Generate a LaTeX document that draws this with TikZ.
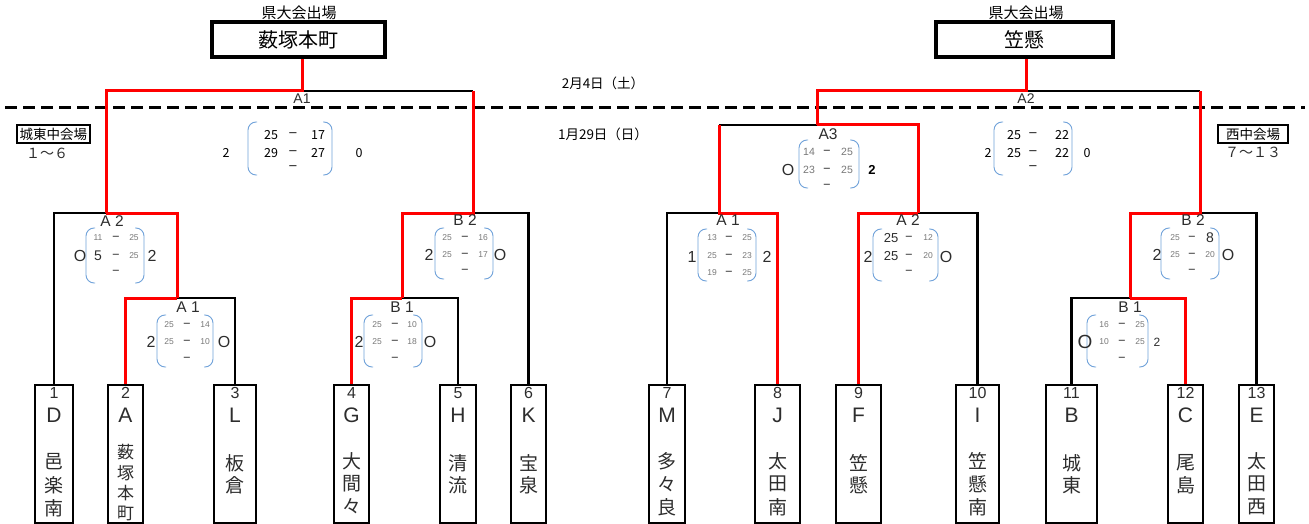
\documentclass[tikz,border=0pt]{standalone}
\usepackage{fontspec}
\setmainfont{Liberation Sans}
\newfontfamily\jp{Noto Sans CJK JP}
\definecolor{parb}{RGB}{112,162,218}
\definecolor{smg}{RGB}{120,120,120}
\definecolor{ocg}{RGB}{45,45,45}
\newcounter{nn}
\newcommand\tx[4]{\stepcounter{nn}\node[#1] (n\arabic{nn}) at (#2,#3) {#4};}
\newcommand\sbr[4]{%
  \draw[parc] ({#1+9},#3) -- (#1,#3) -- (#1,#4) -- ({#1+9},#4);
  \draw[parc] ({#2-9},#3) -- (#2,#3) -- (#2,#4) -- ({#2-9},#4);}
\newcommand\team[6]{% name, center x, width, num, letter, unused
  \node[teambox,minimum width=#3pt] (#1) at (#2,454) {};
  \node[numtxt] (#1n) at (#2,393) {#4};
  \node[lettxt] (#1l) at (#2,415) {#5};}
\newcommand\kj[3]{\stepcounter{nn}\node[kjtxt] (k\arabic{nn}) at (#1,#2) {#3};}
\begin{document}
\begin{tikzpicture}[x=1pt,y=-1pt,
  blk/.style={line width=2.2pt,black},
  redl/.style={line width=3pt,red},
  parc/.style={line width=0.9pt,parb,rounded corners=8pt},
  teambox/.style={draw,line width=2.2pt,inner sep=0pt,minimum height=138pt},
  numtxt/.style={font=\fontsize{16}{16}\selectfont,text=ocg,inner sep=0pt},
  lettxt/.style={font=\fontsize{21}{21}\selectfont,text=ocg,inner sep=0pt},
  kjtxt/.style={font=\jp\fontsize{19}{19}\selectfont,text=ocg,inner sep=0pt},
  kjs/.style={font=\jp\fontsize{17}{17}\selectfont,text=ocg,inner sep=0pt},
  lbl/.style={font=\fontsize{15.5}{15.5}\selectfont,text=ocg,inner sep=0pt},
  sm/.style={font=\fontsize{8.5}{8.5}\selectfont,text=smg,inner sep=0pt},
  smb/.style={font=\fontsize{10.5}{10.5}\selectfont,text=smg,inner sep=0pt},
  md/.style={font=\fontsize{14}{14}\selectfont,text=ocg,inner sep=0pt},
  sdash/.style={font=\fontsize{11}{11}\selectfont,text=black,inner sep=0pt},
  fdash/.style={font=\fontsize{13}{13}\selectfont,text=black,inner sep=0pt},
  oc/.style={font=\fontsize{16}{16}\selectfont,text=ocg,inner sep=0pt},
  fin/.style={font=\jp\fontsize{12.5}{12.5}\selectfont,text=black,inner sep=0pt},
  jpt/.style={font=\jp\fontsize{13.5}{13.5}\selectfont,text=black,inner sep=0pt},
  venue/.style={draw,line width=2.8pt,inner sep=0pt,minimum height=18pt,font=\jp\fontsize{13.5}{13.5}\selectfont}
]
\useasboundingbox (0,0) rectangle (1309,524);
\fill[white] (0,0) rectangle (1309,524);

% ---------- top boxes ----------
\node[font=\jp\fontsize{15}{15}\selectfont,inner sep=0pt] (hdA) at (299,13) {県大会出場};
\node[font=\jp\fontsize{15}{15}\selectfont,inner sep=0pt] (hdB) at (1026,13) {県大会出場};
\node[draw,line width=3.5pt,minimum width=173pt,minimum height=35pt,inner sep=0pt,font=\jp\fontsize{20}{20}\selectfont] (kenA) at (298.5,39.5) {薮塚本町};
\node[draw,line width=3.5pt,minimum width=177pt,minimum height=35pt,inner sep=0pt,font=\jp\fontsize{20}{20}\selectfont] (kenB) at (1024.5,39.5) {笠懸};

% dates and dashed line
\node[jpt] (d1) at (603,83) {2月4日（土）};
\node[jpt] (d2) at (603,134) {1月29日（日）};
\draw[line width=3pt,dash pattern=on 12pt off 6pt] (5,108) -- (1305,108);

% venues
\node[venue,minimum width=73pt] (v1) at (53.5,134) {城東中会場};
\node[venue,minimum width=70pt] (v2) at (1253,134) {西中会場};
\node[font=\jp\fontsize{14}{14}\selectfont,text=ocg,inner sep=0pt] (r1) at (47,153) {１～６};
\node[font=\jp\fontsize{14}{14}\selectfont,text=ocg,inner sep=0pt] (r2) at (1253,152) {７～１３};

% ---------- teams ----------
\team{t1}{54}{38}{1}{D}{}
\team{t2}{125.5}{35}{2}{A}{}
\team{t3}{235}{42}{3}{L}{}
\team{t4}{351.5}{35}{4}{G}{}
\team{t5}{458}{36}{5}{H}{}
\team{t6}{528.5}{35}{6}{K}{}
\team{t7}{667}{36}{7}{M}{}
\team{t8}{777.5}{45}{8}{J}{}
\team{t9}{858.5}{45}{9}{F}{}
\team{t10}{977.5}{43}{10}{I}{}
\team{t11}{1071.5}{51}{11}{B}{}
\team{t12}{1185.5}{35}{12}{C}{}
\team{t13}{1256.5}{35}{13}{E}{}

\kj{54}{462}{邑}\kj{54}{485}{楽}\kj{54}{508}{南}
\stepcounter{nn}\node[kjs] (k\arabic{nn}) at (125.5,452) {薮};
\stepcounter{nn}\node[kjs] (k\arabic{nn}) at (125.5,473) {塚};
\stepcounter{nn}\node[kjs] (k\arabic{nn}) at (125.5,493) {本};
\stepcounter{nn}\node[kjs] (k\arabic{nn}) at (125.5,513) {町};
\kj{235}{463}{板}\kj{235}{485}{倉}
\kj{351.5}{461}{大}\kj{351.5}{484}{間}\kj{351.5}{506}{々}
\kj{458}{463}{清}\kj{458}{485}{流}
\kj{528.5}{463}{宝}\kj{528.5}{485}{泉}
\kj{667}{461}{多}\kj{667}{484}{々}\kj{667}{507}{良}
\kj{777.5}{461}{太}\kj{777.5}{484}{田}\kj{777.5}{507}{南}
\kj{858.5}{463}{笠}\kj{858.5}{485}{懸}
\kj{977.5}{461}{笠}\kj{977.5}{484}{懸}\kj{977.5}{507}{南}
\kj{1071.5}{463}{城}\kj{1071.5}{485}{東}
\kj{1185.5}{463}{尾}\kj{1185.5}{485}{島}
\kj{1256.5}{461}{太}\kj{1256.5}{484}{田}\kj{1256.5}{507}{西}

% ---------- junctions ----------
\coordinate (jA1L) at (177,298);
\coordinate (jA2L) at (106,213);
\coordinate (jB1L) at (402,298);
\coordinate (jB2L) at (473,213);
\coordinate (jF1)  at (302,91);
\coordinate (jF1r) at (473,91);
\coordinate (jA1R) at (719,213);
\coordinate (jA2R) at (918,213);
\coordinate (jA3l) at (719,125);
\coordinate (jA3)  at (817,125);
\coordinate (jF2)  at (1026,91);
\coordinate (jF2r) at (1200,91);
\coordinate (jB1R) at (1130,298);
\coordinate (jB2R) at (1200,213);

% black connectors
\draw[blk] (t3.north) |- (jA1L);
\draw[blk] (t1.north) |- (jA2L);
\draw[blk] (t5.north) |- (jB1L);
\draw[blk] (t6.north) |- (jB2L);
\draw[blk] (jF1r) -- (jF1);
\draw[blk] (t7.north) |- (jA1R);
\draw[blk] (t10.north) |- (jA2R);
\draw[blk] (jA3l) -- (jA3);
\draw[blk] (jF2r) -- (jF2);
\draw[blk] (t11.north) |- (jB1R);
\draw[blk] (t13.north) |- (jB2R);

% red connectors
\draw[redl] (t2.north) |- (jA1L);
\draw[redl] (jA1L) |- (jA2L);
\draw[redl] (jA2L) |- (jF1) -- (jF1 |- kenA.south);
\draw[redl] (t4.north) |- (jB1L);
\draw[redl] (jB1L) |- (jB2L) -- (jF1r);
\draw[redl] (t8.north) |- (jA1R) -- (jA3l);
\draw[redl] (t9.north) |- (jA2R);
\draw[redl] (jA2R) |- (jA3);
\draw[redl] (jA3) |- (jF2) -- (jF2 |- kenB.south);
\draw[redl] (t12.north) |- (jB1R);
\draw[redl] (jB1R) |- (jB2R) -- (jF2r);

% ---------- match labels ----------
\tx{lbl,font=\fontsize{14}{14}\selectfont}{302}{99}{A1}
\tx{lbl,font=\fontsize{14}{14}\selectfont}{1026}{99}{A2}
\tx{lbl}{112}{221}{A 2}
\tx{lbl}{188}{307}{A 1}
\tx{lbl}{465}{220}{B 2}
\tx{lbl}{402}{307}{B 1}
\tx{lbl}{728}{220}{A 1}
\tx{lbl}{908}{220}{A 2}
\tx{lbl}{828}{134}{A3}
\tx{lbl}{1193}{220}{B 2}
\tx{lbl}{1130}{307}{B 1}

% ---------- scores ----------
% left A2
\sbr{86}{144}{228}{283}
\tx{oc}{80}{256}{O}\tx{oc}{152}{256}{2}
\tx{sm}{98}{238}{11}\tx{sdash}{116}{238}{–}\tx{sm}{134}{238}{25}
\tx{md}{98}{256}{5}\tx{sdash}{116}{256}{–}\tx{sm}{134}{256}{25}
\tx{sdash}{116}{272}{–}
% left A1
\sbr{157}{213}{315}{367}
\tx{oc}{151}{342}{2}\tx{oc}{224}{342}{O}
\tx{sm}{169}{325}{25}\tx{sdash}{187}{325}{–}\tx{sm}{205}{325}{14}
\tx{sm}{169}{342}{25}\tx{sdash}{187}{342}{–}\tx{sm}{205}{342}{10}
\tx{sdash}{187}{359}{–}
% left B2
\sbr{435}{493}{228}{279}
\tx{oc}{429}{255}{2}\tx{oc}{500}{255}{O}
\tx{sm}{447}{238}{25}\tx{sdash}{465}{238}{–}\tx{sm}{483}{238}{16}
\tx{sm}{447}{255}{25}\tx{sdash}{465}{255}{–}\tx{sm}{483}{255}{17}
\tx{sdash}{465}{271}{–}
% left B1
\sbr{364}{422}{315}{367}
\tx{oc}{359}{342}{2}\tx{oc}{430}{342}{O}
\tx{sm}{377}{325}{25}\tx{sdash}{395}{325}{–}\tx{sm}{412}{325}{10}
\tx{sm}{377}{342}{25}\tx{sdash}{395}{342}{–}\tx{sm}{412}{342}{18}
\tx{sdash}{395}{359}{–}
% left final
\sbr{248}{332}{122}{175}
\tx{fin}{226}{153}{2}\tx{fin}{359}{153}{0}
\tx{fin}{271}{135}{25}\tx{fdash}{293}{135}{–}\tx{fin}{318}{135}{17}
\tx{fin}{271}{153}{29}\tx{fdash}{293}{153}{–}\tx{fin}{318}{153}{27}
\tx{fdash}{293}{168}{–}
% right A3
\sbr{799}{859}{140}{188}
\tx{oc}{788}{170}{O}\tx{fin,font=\bfseries\fontsize{13}{13}\selectfont}{872}{170}{2}
\tx{smb}{809}{152}{14}\tx{sdash}{827}{152}{–}\tx{smb}{847}{152}{25}
\tx{smb}{809}{170}{23}\tx{sdash}{827}{170}{–}\tx{smb}{847}{170}{25}
\tx{sdash}{827}{186}{–}
% right A1
\sbr{698}{756}{229}{281}
\tx{oc}{692}{257}{1}\tx{oc}{767}{257}{2}
\tx{sm}{712}{238}{13}\tx{sdash}{729}{238}{–}\tx{sm}{747}{238}{25}
\tx{sm}{712}{256}{25}\tx{sdash}{729}{256}{–}\tx{sm}{747}{256}{23}
\tx{sm}{712}{273}{19}\tx{sdash}{729}{273}{–}\tx{sm}{747}{273}{25}
% right A2
\sbr{873}{938}{229}{281}
\tx{oc}{868}{257}{2}\tx{oc}{946}{257}{O}
\tx{md,font=\fontsize{13}{13}\selectfont}{891}{238}{25}\tx{sdash}{909}{238}{–}\tx{sm}{928}{238}{12}
\tx{md,font=\fontsize{13}{13}\selectfont}{891}{256}{25}\tx{sdash}{909}{256}{–}\tx{sm}{928}{256}{20}
\tx{sdash}{909}{272}{–}
% right final
\sbr{994}{1072}{122}{175}
\tx{fin}{988}{153}{2}\tx{fin}{1087}{153}{0}
\tx{fin}{1014}{135}{25}\tx{fdash}{1033}{135}{–}\tx{fin}{1062}{135}{22}
\tx{fin}{1014}{153}{25}\tx{fdash}{1033}{153}{–}\tx{fin}{1062}{153}{22}
\tx{fdash}{1033}{168}{–}
% right B2
\sbr{1161}{1219}{228}{279}
\tx{oc}{1157}{255}{2}\tx{oc}{1228}{255}{O}
\tx{sm}{1175}{238}{25}\tx{sdash}{1192}{238}{–}\tx{md}{1210}{238}{8}
\tx{sm}{1175}{255}{25}\tx{sdash}{1192}{255}{–}\tx{sm}{1210}{255}{20}
\tx{sdash}{1192}{271}{–}
% right B1
\sbr{1087}{1148}{315}{367}
\tx{oc,font=\fontsize{19}{19}\selectfont}{1085}{342}{O}\tx{oc,font=\fontsize{12}{12}\selectfont}{1157}{342}{2}
\tx{sm}{1104}{325}{16}\tx{sdash}{1122}{325}{–}\tx{sm}{1140}{325}{25}
\tx{sm}{1104}{342}{10}\tx{sdash}{1122}{342}{–}\tx{sm}{1140}{342}{25}
\tx{sdash}{1122}{359}{–}
\end{tikzpicture}
\end{document}
